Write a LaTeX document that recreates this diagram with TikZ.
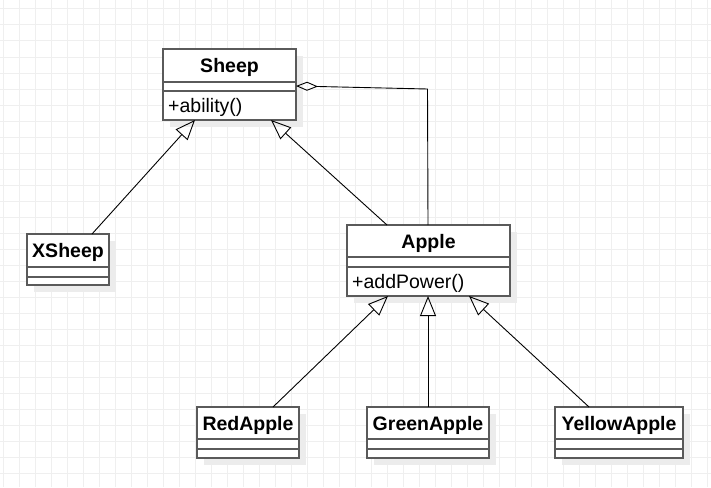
\documentclass[tikz,border=0pt]{standalone}
\usepackage{fontspec}
\setmainfont{Liberation Sans}
\usetikzlibrary{arrows.meta,calc}
\definecolor{gridgray}{HTML}{EFEFEF}
\definecolor{shadowgray}{HTML}{ECECEC}
\definecolor{boxgray}{HTML}{5A5A5A}
\newcommand\umlclass[8]{%
  \fill[shadowgray] (#2+7,#3+7) rectangle ++(#4,#5);
  \node[umlbox, minimum width=#4pt, minimum height=#5pt] (#1) at (#2,#3) {};
  \draw[sepline] ([yshift=-#6pt]#1.north west) -- ([yshift=-#6pt]#1.north east);
  \draw[sepline] ([yshift=-#7pt]#1.north west) -- ([yshift=-#7pt]#1.north east);
  \node[classtitle] (#1-title) at ($(#1.north)+(0,{#6/2+7})$) {#8};
}
\begin{document}
\begin{tikzpicture}[x=1pt,y=-1pt,
  umlbox/.style={draw=boxgray, line width=1.5pt, fill=white, inner sep=0pt, outer sep=0pt, anchor=north west},
  classtitle/.style={font=\fontsize{19.5}{22}\selectfont\bfseries, inner sep=0pt, anchor=base},
  method/.style={font=\fontsize{19.5}{22}\selectfont, inner sep=0pt, anchor=base west},
  sepline/.style={draw=boxgray, line width=1.5pt},
  inherit/.style={draw=black, line width=0.9pt, -{Triangle[open, length=20pt, width=16pt]}},
  aggr/.style={draw=black, line width=0.9pt, -{Diamond[open, length=22pt, width=9pt]}}
]
\useasboundingbox (0,0) rectangle (711,487);
\foreach \gx in {3,19,...,707} \draw[gridgray, line width=1pt] (\gx,0) -- (\gx,487);
\foreach \gy in {9,25,...,489} \draw[gridgray, line width=1pt] (0,\gy) -- (711,\gy);

\umlclass{sheep}{163}{49}{133}{71}{33}{42}{Sheep}
\node[method] (sheep-m) at ($(sheep.north west)+(5,{42+(71-42)/2+7})$) {+ability()};

\umlclass{xsheep}{27}{234}{82}{51}{33}{43}{XSheep}

\umlclass{apple}{347}{225}{163}{71}{32}{42}{Apple}
\node[method] (apple-m) at ($(apple.north west)+(5,{42+(71-42)/2+7})$) {+addPower()};

\umlclass{redapple}{197}{407}{102}{51}{32}{42}{RedApple}
\umlclass{greenapple}{367}{407}{122}{51}{32}{42}{GreenApple}
\umlclass{yellowapple}{555}{407}{128}{51}{32}{42}{YellowApple}

\draw[inherit] ([xshift=65pt]xsheep.north west) -- ([xshift=32pt]sheep.south west);
\draw[inherit] ([xshift=40pt]apple.north west) -- ([xshift=108pt]sheep.south west);
\coordinate (bend) at (427.5,89);
\draw[aggr] ([xshift=81pt]apple.north west) -- (bend) -- ([yshift=-1.5pt]sheep.east);

\draw[inherit] ([xshift=76pt]redapple.north west) -- ([xshift=41pt]apple.south west);
\draw[inherit] ([xshift=61pt]greenapple.north west) -- ([xshift=81pt]apple.south west);
\draw[inherit] ([xshift=34pt]yellowapple.north west) -- ([xshift=122pt]apple.south west);
\end{tikzpicture}
\end{document}
